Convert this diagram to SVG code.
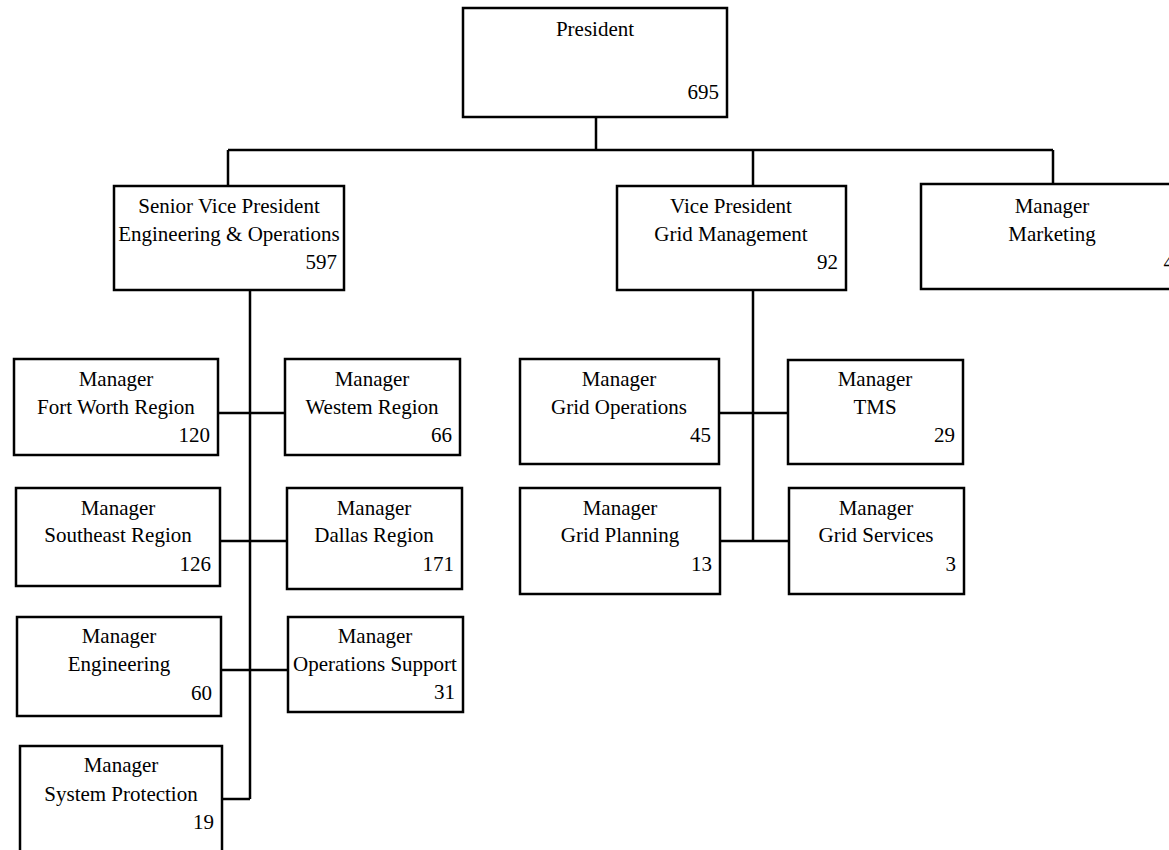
<svg xmlns="http://www.w3.org/2000/svg" width="1169" height="850" viewBox="0 0 1169 850">
<style>
rect{fill:#fff;stroke:#000;stroke-width:2.5}
.c{fill:none;stroke:#000;stroke-width:2.5}
text{font-family:"Liberation Serif","Times New Roman",serif;font-size:21px;fill:#000}
.m{text-anchor:middle}
.n{text-anchor:end}
</style>
<rect x="0" y="0" width="1169" height="850" style="fill:#fff;stroke:none"/>
<g id="connectors">
<path class="c" d="M596 117V150M228 150H1053M228 150V186M753 150V186M1053 150V184"/>
<path class="c" d="M250 290V799M218 413H285M220 541H287M221 670H288M222 799H250"/>
<path class="c" d="M753 290V541M719 413H788M720 541H789"/>
</g>
<g id="president"><rect x="463" y="8" width="264" height="109"/><text class="m" x="595" y="36">President</text><text class="n" x="719" y="99">695</text></g>
<g id="svp"><rect x="114" y="186" width="230" height="104"/><text class="m" x="229" y="213">Senior Vice President</text><text class="m" x="229" y="241">Engineering &amp; Operations</text><text class="n" x="337" y="269">597</text></g>
<g id="vp"><rect x="617" y="186" width="229" height="104"/><text class="m" x="731" y="213">Vice President</text><text class="m" x="731" y="241">Grid Management</text><text class="n" x="838" y="269">92</text></g>
<g id="marketing"><rect x="921" y="184" width="262" height="105"/><text class="m" x="1052" y="213">Manager</text><text class="m" x="1052" y="241">Marketing</text><text class="n" x="1174" y="269">4</text></g>
<g id="fortworth"><rect x="14" y="359" width="204" height="96"/><text class="m" x="116" y="386">Manager</text><text class="m" x="116" y="414">Fort Worth Region</text><text class="n" x="210" y="442">120</text></g>
<g id="western"><rect x="285" y="359" width="175" height="96"/><text class="m" x="372" y="386">Manager</text><text class="m" x="372" y="414">Westem Region</text><text class="n" x="452" y="442">66</text></g>
<g id="southeast"><rect x="16" y="488" width="204" height="98"/><text class="m" x="118" y="515">Manager</text><text class="m" x="118" y="542">Southeast Region</text><text class="n" x="211" y="571">126</text></g>
<g id="dallas"><rect x="287" y="488" width="175" height="101"/><text class="m" x="374" y="515">Manager</text><text class="m" x="374" y="542">Dallas Region</text><text class="n" x="454" y="571">171</text></g>
<g id="engineering"><rect x="17" y="617" width="204" height="99"/><text class="m" x="119" y="643">Manager</text><text class="m" x="119" y="671">Engineering</text><text class="n" x="212" y="700">60</text></g>
<g id="opsupport"><rect x="288" y="617" width="175" height="95"/><text class="m" x="375" y="643">Manager</text><text class="m" x="375" y="671">Operations Support</text><text class="n" x="455" y="699">31</text></g>
<g id="sysprot"><rect x="20" y="746" width="202" height="110"/><text class="m" x="121" y="772">Manager</text><text class="m" x="121" y="801">System Protection</text><text class="n" x="214" y="829">19</text></g>
<g id="gridops"><rect x="520" y="359" width="199" height="105"/><text class="m" x="619" y="386">Manager</text><text class="m" x="619" y="414">Grid Operations</text><text class="n" x="711" y="442">45</text></g>
<g id="tms"><rect x="788" y="360" width="175" height="104"/><text class="m" x="875" y="386">Manager</text><text class="m" x="875" y="414">TMS</text><text class="n" x="955" y="442">29</text></g>
<g id="gridplanning"><rect x="520" y="488" width="200" height="106"/><text class="m" x="620" y="515">Manager</text><text class="m" x="620" y="542">Grid Planning</text><text class="n" x="712" y="571">13</text></g>
<g id="gridservices"><rect x="789" y="488" width="175" height="106"/><text class="m" x="876" y="515">Manager</text><text class="m" x="876" y="542">Grid Services</text><text class="n" x="956" y="571">3</text></g>
</svg>
